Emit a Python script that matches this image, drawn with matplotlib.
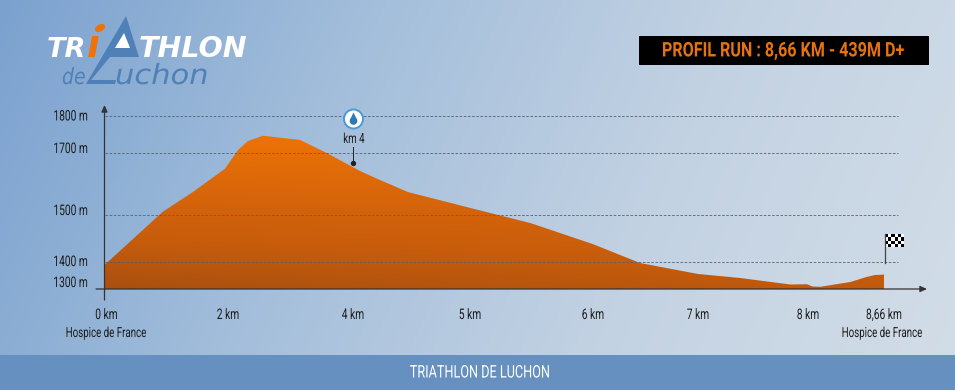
# -*- coding: utf-8 -*-
import numpy as np
import matplotlib
matplotlib.use("Agg")
import matplotlib.pyplot as plt
from matplotlib.colors import LinearSegmentedColormap
from matplotlib.patches import Polygon, Circle, Ellipse
from matplotlib.patheffects import AbstractPathEffect
from matplotlib.transforms import Affine2D

W, H = 955, 390
ETROIT = "Roboto"

# Donnees du profil
km = [0, 0.62, 0.94, 1.43, 1.95, 2.16, 2.32, 2.56, 3.15, 3.58, 4.06, 4.23, 4.47, 5, 5.49, 6,
      6.45, 7, 7.38, 7.84, 7.99, 8.04, 8.11, 8.37, 8.51, 8.58, 8.66]
altitude = [1386, 1468, 1510, 1574, 1649, 1708, 1732, 1746, 1735, 1700, 1642, 1613, 1574, 1523,
            1483, 1438, 1395, 1343, 1324, 1294, 1295, 1286, 1285, 1305, 1329, 1338, 1340]

km_ticks = [0, 2, 4, 5, 6, 7, 8, 8.66]
km_labels = ["0 km", "2 km", "4 km", "5 km", "6 km", "7 km", "8 km", "8,66 km"]
alt_ticks = [1300, 1400, 1500, 1700, 1800]
alt_grid = [1400, 1500, 1700, 1800]
ravito_km = 4
ravito_alt = 1668
depart = "Hospice de France"
titre = "PROFIL RUN : 8,66 KM - 439M D+"
bandeau = "TRIATHLON DE LUCHON"

# Echelles non lineaires de l'original (valeur -> pixel)
x_val = [-2, 0, 2, 4, 5, 6, 7, 8, 8.66, 10]
x_px = [-18.5, 104.5, 228, 353, 470, 593, 698, 808, 884, 1038]
y_val = [872, 1276, 1300, 1400, 1500, 1700, 1800, 2113]
y_px = [390, 289, 283, 262, 215, 153, 115.5, 0]
y_up = [H - p for p in y_px]
# decalage vertical des etiquettes d'altitude, en pixels
alt_dy = [0, 0, 4, 4, -1]


class Serre(AbstractPathEffect):
    """Resserre le texte horizontalement autour de x0 (police etroite absente)"""
    def __init__(self, x0, sx):
        super().__init__()
        self.x0 = x0
        self.sx = sx

    def draw_path(self, renderer, gc, tpath, affine, rgbFace=None):
        serre = Affine2D().translate(-self.x0, 0).scale(self.sx, 1).translate(self.x0, 0)
        renderer.draw_path(gc, tpath, affine + serre, rgbFace)


def etiquette(px, py, s, sx=0.7, ha="center", size=10.5):
    bg_txt.text(px, py, s, fontsize=size, color="#1c1c1c", ha=ha, va="center", family=ETROIT,
                path_effects=[Serre(px, sx)])


fig = plt.figure(figsize=(W / 100, H / 100), dpi=100)

# Fond en coordonnees pixel
bg = fig.add_axes([0, 0, 1, 1], zorder=0)
bg.set_xlim(0, W)
bg.set_ylim(H, 0)
bg.axis("off")
xx, yy = np.meshgrid(np.linspace(0, 1, 240), np.linspace(0, 1, 100))
fond = LinearSegmentedColormap.from_list("fond", ["#7ba2cf", "#a3bedb", "#c3d2e3", "#d2dde7"])
bg.imshow(0.85 * xx + 0.15 * yy, cmap=fond, extent=(0, W, H, 0), aspect="auto", vmin=0, vmax=1)
bg.add_patch(plt.Rectangle((0, 355), W, 35, color="#6690c0", lw=0))
bg.text(479.5, 373, bandeau, color="white", fontsize=12.5, ha="center", va="center", family=ETROIT,
        path_effects=[Serre(479.5, 0.73)])

# Cartouche du titre
bg.add_patch(plt.Rectangle((639, 36), 290, 29, color="black", lw=0))
bg.text(783, 51, titre, color="#e8730c", fontsize=14.5, fontweight="bold", ha="center", va="center", family=ETROIT,
        path_effects=[Serre(783, 0.8)])

# Logo
bleu = "#4f81b8"
orange_logo = "#ec7209"
bg.add_patch(Polygon([(126, 16), (139, 57), (110, 57), (91, 80), (116, 80), (115, 84), (86, 84)],
                     closed=True, color=bleu, lw=0))
bg.add_patch(Polygon([(124, 33), (130, 48), (115, 48)], closed=True, color="white", lw=0))
bg.text(47, 57, "TR", color="white", fontsize=19.5, fontweight="bold", style="italic", va="baseline")
bg.text(139, 57, "THLON", color="white", fontsize=20.5, fontweight="bold", style="italic", va="baseline")
bg.text(87, 57, "\u0131", color=orange_logo, fontsize=27, fontweight="bold", style="italic", va="baseline")
bg.add_patch(Ellipse((100, 28), 11, 7, angle=-30, color=orange_logo, lw=0))
bg.text(62, 84, "de", color=bleu, fontsize=16, style="italic", va="baseline", path_effects=[Serre(62, 0.85)])
bg.text(115, 84, "uchon", color=bleu, fontsize=20, style="italic", va="baseline", path_effects=[Serre(115, 1.1)])

# Degrade de la surface
grad = fig.add_axes([0, 0, 1, 1], zorder=1)
grad.axis("off")
grad.patch.set_alpha(0)
xx, yy = np.meshgrid(np.linspace(0, 1, 200), np.linspace(0, 1, 160))
orange = LinearSegmentedColormap.from_list("orange", ["#ec7306", "#d9660a", "#c65c0c", "#a64f10"])
img = grad.imshow(yy - 0.3 * xx * yy, cmap=orange, extent=(0, W, 289, 135), aspect="auto", vmin=0, vmax=1)
grad.set_xlim(0, W)
grad.set_ylim(H, 0)

# Axe principal a echelles par morceaux
ax = fig.add_axes([0, 0, 1, 1], zorder=2)
ax.patch.set_alpha(0)
ax.set_xscale("function", functions=(lambda v: np.interp(v, x_val, x_px), lambda p: np.interp(p, x_px, x_val)))
ax.set_yscale("function", functions=(lambda v: np.interp(v, y_val, y_up), lambda p: np.interp(p, y_up, y_val)))
ax.set_xlim(np.interp(0, x_px, x_val), np.interp(W, x_px, x_val))
ax.set_ylim(y_val[0], y_val[-1])
ax.axis("off")

base = y_val[1]
surface = ax.fill_between(km, altitude, base, facecolor="none", edgecolor="none")
img.set_clip_path(surface.get_paths()[0], surface.get_transform())

for a in alt_grid:
    ax.plot([0, np.interp(898, x_px, x_val)], [a, a], color="#55606b", lw=0.6, ls=(0, (3, 2)))

# Axes et fleches
fleche = dict(arrowstyle="-|>,head_width=0.18,head_length=0.4", color="#333333", lw=0.9, shrinkA=0, shrinkB=0)
ax.annotate("", xy=(np.interp(927, x_px, x_val), base), xytext=(np.interp(96, x_px, x_val), base), arrowprops=fleche)
ax.annotate("", xy=(0, np.interp(H - 105, y_up, y_val)), xytext=(0, np.interp(H - 300, y_up, y_val)), arrowprops=fleche)

# Ravitaillement
ax.plot([ravito_km, ravito_km], [ravito_alt, np.interp(H - 147, y_up, y_val)], color="#222222", lw=0.7)
ax.plot([ravito_km], [ravito_alt], "o", color="#222222", ms=2.8)

# Textes, icone et drapeau au dessus de tout
bg_txt = fig.add_axes([0, 0, 1, 1], zorder=3)
bg_txt.axis("off")
bg_txt.patch.set_alpha(0)

for a, dy in zip(alt_ticks, alt_dy):
    etiquette(88, np.interp(a, y_val, y_px) - dy, f"{a} m", ha="right")
for k, lab in zip(km_ticks, km_labels):
    etiquette(np.interp(k, x_val, x_px) + (2 if k == 0 else 0), 315, lab)
etiquette(106, 333, depart, size=10)
etiquette(882, 333, depart, size=10)
etiquette(354, 139, "km 4", size=10)

bg_txt.add_patch(Circle((353.5, 119), 9.5, facecolor="white", edgecolor="#4a9ad4", lw=1.4))
bg_txt.add_patch(Circle((353.5, 121), 3.8, color="#2f79b5", lw=0))
bg_txt.add_patch(Polygon([(353.5, 112.5), (357.1, 120), (349.9, 120)], closed=True, color="#2f79b5", lw=0))

bg_txt.plot([884.5, 884.5], [234, 263], color="#444444", lw=0.9)
cx = np.linspace(885, 904, 7)
cy = np.linspace(234, 247, 5)
damier = np.indices((4, 6)).sum(axis=0) % 2
bg_txt.pcolormesh(cx, cy, damier, cmap="gray", vmin=0, vmax=1)
bg_txt.set_xlim(0, W)
bg_txt.set_ylim(H, 0)

fig.savefig("out.png", dpi=100)
